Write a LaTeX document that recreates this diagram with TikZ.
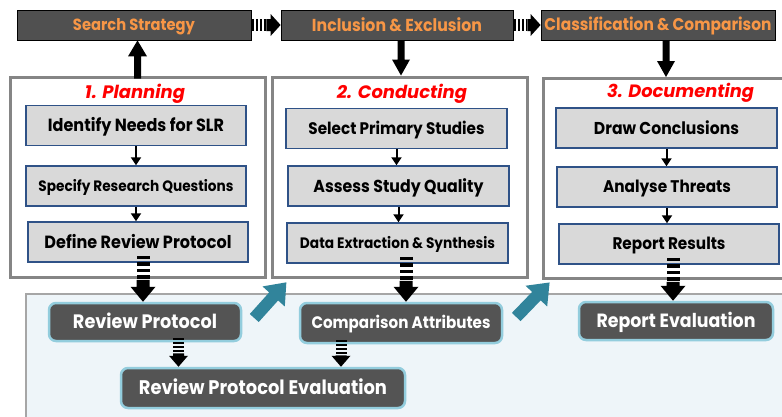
\documentclass[tikz,border=0pt]{standalone}
\usepackage{fontspec}
\setmainfont{Poppins}
\usepackage{graphicx}
\usetikzlibrary{calc,arrows.meta}

\definecolor{topfill}{HTML}{505050}
\definecolor{orangetxt}{HTML}{F79646}
\definecolor{framegray}{HTML}{858585}
\definecolor{innerfill}{HTML}{D9D9D9}
\definecolor{innerborder}{HTML}{2F5287}
\definecolor{panelfill}{HTML}{EEF5F9}
\definecolor{panelborder}{HTML}{A6A6A6}
\definecolor{darkbox}{HTML}{545454}
\definecolor{resborder}{HTML}{93CDDD}
\definecolor{arrowteal}{HTML}{31849B}

% text fitted to a width, boxed so that the node centres it on the capitals
\newcommand\fw[2]{\resizebox{#1pt}{!}{\scalebox{1}[1.1]{\raisebox{0pt}[\fontcharht\font`A][0pt]{#2}}}}

% down block arrow: #1 tail, #2 tip, #3 half body, #4 half head, #5 head length
\newcommand\downblock[5]{\fill ([xshift=-#3pt]#1) -- ([xshift=#3pt]#1) -- ([xshift=#3pt,yshift=#5pt]#2) -- ([xshift=#4pt,yshift=#5pt]#2) -- (#2) -- ([xshift=-#4pt,yshift=#5pt]#2) -- ([xshift=-#3pt,yshift=#5pt]#2) -- cycle;}
\newcommand\upblock[5]{\fill ([xshift=-#3pt]#1) -- ([xshift=#3pt]#1) -- ([xshift=#3pt,yshift=-#5pt]#2) -- ([xshift=#4pt,yshift=-#5pt]#2) -- (#2) -- ([xshift=-#4pt,yshift=-#5pt]#2) -- ([xshift=-#3pt,yshift=-#5pt]#2) -- cycle;}
% striped down arrow: #1 tail, #2 tip, #3 half body, #4 body width, #5 head half, #6 head len, #7 stripe len, #8 on, #9 off
\newcommand\stripedown[9]{%
  \draw[line width=#4pt, dash pattern=on #8pt off #9pt] (#1) -- ([yshift=-#7pt]#1);
  \fill ([xshift=-#3pt,yshift=-#7pt]#1) -- ([xshift=#3pt,yshift=-#7pt]#1) -- ([xshift=#3pt,yshift=#6pt]#2) -- ([xshift=#5pt,yshift=#6pt]#2) -- (#2) -- ([xshift=-#5pt,yshift=#6pt]#2) -- ([xshift=-#3pt,yshift=#6pt]#2) -- cycle;}
\newcommand\striperight[9]{%
  \draw[line width=#4pt, dash pattern=on #8pt off #9pt] (#1) -- ([xshift=#7pt]#1);
  \fill ([xshift=#7pt,yshift=#3pt]#1) -- ([xshift=-#6pt,yshift=#3pt]#2) -- ([xshift=-#6pt,yshift=#5pt]#2) -- (#2) -- ([xshift=-#6pt,yshift=-#5pt]#2) -- ([xshift=-#6pt,yshift=-#3pt]#2) -- ([xshift=#7pt,yshift=-#3pt]#1) -- cycle;}

\tikzset{
  topbox/.style={draw=black, line width=0.8pt, fill=topfill, minimum height=30pt, text=orangetxt, font=\bfseries, inner sep=0pt},
  phase/.style={draw=framegray, line width=3pt, fill=white, minimum height=200pt, inner sep=0pt},
  innerbox/.style={draw=innerborder, line width=1.5pt, fill=innerfill, minimum width=220pt, minimum height=40pt, font=\bfseries, text=black, inner sep=0pt},
  result/.style={draw=resborder, line width=2.5pt, fill=darkbox, rounded corners=7pt, text=white, font=\bfseries, minimum height=38pt, inner sep=0pt},
  phasetitle/.style={text=red, font=\bfseries\itshape, anchor=base, inner sep=0pt},
  panelbox/.style={draw=panelborder, line width=2pt, fill=panelfill, inner sep=0pt},
  smallarrow/.style={line width=2pt, -{Triangle[width=10pt,length=8pt]}},
  tealarrow/.style={fill=arrowteal}
}

\begin{document}
\begin{tikzpicture}[x=1pt,y=-1pt]
\useasboundingbox (0,0) rectangle (782,416);
\fill[white] (0,0) rectangle (782,416);

% bottom panel
\node[panelbox, minimum width=775pt, minimum height=137pt, anchor=north west] (panel) at (25,293) {};

% phase frames
\node[phase, minimum width=255pt] (pf1) at (137.5,177) {};
\node[phase, minimum width=255pt] (pf2) at (399.5,177) {};
\node[phase, minimum width=258pt, anchor=north west] (pf3) at (542,77) {};

% titles
\node[phasetitle] (t1) at (135,98) {\resizebox{100pt}{!}{1. Planning}};
\node[phasetitle] (t2) at (402,98) {\resizebox{130pt}{!}{2. Conducting}};
\node[phasetitle] (t3) at (680.5,97) {\resizebox{147pt}{!}{3. Documenting}};

% inner boxes
\node[innerbox] (p1) at (136,125.5) {\fw{176}{Identify Needs for SLR}};
\node[innerbox] (p2) at (136,186) {\fw{195}{Specify Research Questions}};
\node[innerbox] (p3) at (138,242) {\fw{187}{Define Review Protocol}};
\node[innerbox, minimum width=221pt] (c1) at (396.5,128.5) {\fw{176}{Select Primary Studies}};
\node[innerbox, minimum width=221pt] (c2) at (398.5,186) {\fw{170}{Assess Study Quality}};
\node[innerbox, minimum width=221pt] (c3) at (397.5,243) {\fw{195}{Data Extraction \& Synthesis}};
\node[innerbox, minimum width=221pt] (d1) at (666.5,128) {\fw{145}{Draw Conclusions}};
\node[innerbox] (d2) at (667,187) {\fw{128}{Analyse Threats}};
\node[innerbox] (d3) at (669,244) {\fw{113}{Report Results}};

% top boxes
\node[topbox, minimum width=234pt] (ss) at (134,25) {\fw{122}{Search Strategy}};
\node[topbox, minimum width=232pt] (ie) at (397,25) {\fw{170}{Inclusion \& Exclusion}};
\node[topbox, minimum width=234pt] (cc) at (658,25) {\fw{227}{Classification \& Comparison}};

% result boxes
\node[result, minimum width=192pt] (rp) at (145,322) {\fw{144}{Review Protocol}};
\node[result, minimum width=202pt, minimum height=40pt] (ca) at (401,323) {\fw{179}{Comparison Attributes}};
\node[result, minimum width=284pt, minimum height=40pt] (rpe) at (263,388) {\fw{248}{Review Protocol Evaluation}};
\node[result, minimum width=194pt] (re) at (676,321) {\fw{159}{Report Evaluation}};

% small arrows inside phases
\draw[smallarrow] (p1.south) -- (p1.south |- p2.north);
\draw[smallarrow] (p2.south) -- (p2.south |- p3.north);
\draw[smallarrow] (c1.south) -- (c1.south |- c2.north);
\draw[smallarrow] (c2.south) -- (c2.south |- c3.north);
\draw[smallarrow] (d1.south) -- (d1.south |- d2.north);
\draw[smallarrow] (d2.south) -- (d2.south |- d3.north);

% top horizontal striped arrows
\coordinate (h1t) at ($(ss.east)+(1,0)$);
\coordinate (h2t) at ($(ie.east)+(1,0)$);
\striperight{h1t}{ie.west}{6}{12}{11}{10}{14}{2}{1.7}
\striperight{h2t}{cc.west}{6}{12}{11}{10}{13}{2}{1.7}

% up arrow planning -> search strategy
\coordinate (ut) at ($(pf1.north)+(0,3)$);
\coordinate (up) at (ut |- ss.south);
\upblock{ut}{up}{3.5}{9.5}{16}

% down arrows into phases
\coordinate (dt1) at ($(ie.south)+(4,0)$);
\coordinate (dp1) at (dt1 |- pf2.north);
\downblock{dt1}{dp1}{3.5}{9}{16}
\coordinate (dt2) at ($(cc.south)+(8,0)$);
\coordinate (dp2) at (dt2 |- pf3.north);
\downblock{dt2}{dp2}{3.5}{9}{16}

% striped arrows to results
\coordinate (s1t) at ($(p3.south)+(5,-7)$);
\coordinate (s1p) at (s1t |- rp.north);
\stripedown{s1t}{s1p}{6.5}{13}{12.5}{15}{24}{3.5}{3}
\coordinate (s2t) at ($(c3.south)+(8.5,-7)$);
\coordinate (s2p) at (s2t |- ca.north);
\stripedown{s2t}{s2p}{6.5}{13}{12.5}{15}{24}{3.5}{3}
\coordinate (s3t) at ($(d3.south)+(4,-7)$);
\coordinate (s3p) at (s3t |- re.north);
\stripedown{s3t}{s3p}{6.5}{13}{12.5}{15}{24}{3.5}{3}

% striped arrows to evaluation
\coordinate (s4t) at ($(rp.south)+(33.5,-4)$);
\coordinate (s4p) at (s4t |- rpe.north);
\stripedown{s4t}{s4p}{5.5}{11}{9.5}{11}{15}{2}{2}
\coordinate (s5t) at ($(ca.south)+(-60,-4)$);
\coordinate (s5p) at (s5t |- rpe.north);
\stripedown{s5t}{s5p}{5.5}{11}{9.5}{11}{15}{2}{2}

% teal arrows
\coordinate (ta1) at ($(rp.east)+(12,-4)$);
\coordinate (ta2) at ($(ca.east)+(13,-6)$);
\begin{scope}[shift={(ta1)}, rotate=48]
  \fill[tealarrow] (0pt,-6pt) -- (29pt,-6pt) -- (29pt,-15pt) -- (48pt,0pt) -- (29pt,15pt) -- (29pt,6pt) -- (0pt,6pt) -- cycle;
\end{scope}
\begin{scope}[shift={(ta2)}, rotate=46]
  \fill[tealarrow] (0pt,-6pt) -- (29pt,-6pt) -- (29pt,-15pt) -- (48pt,0pt) -- (29pt,15pt) -- (29pt,6pt) -- (0pt,6pt) -- cycle;
\end{scope}
\end{tikzpicture}
\end{document}
